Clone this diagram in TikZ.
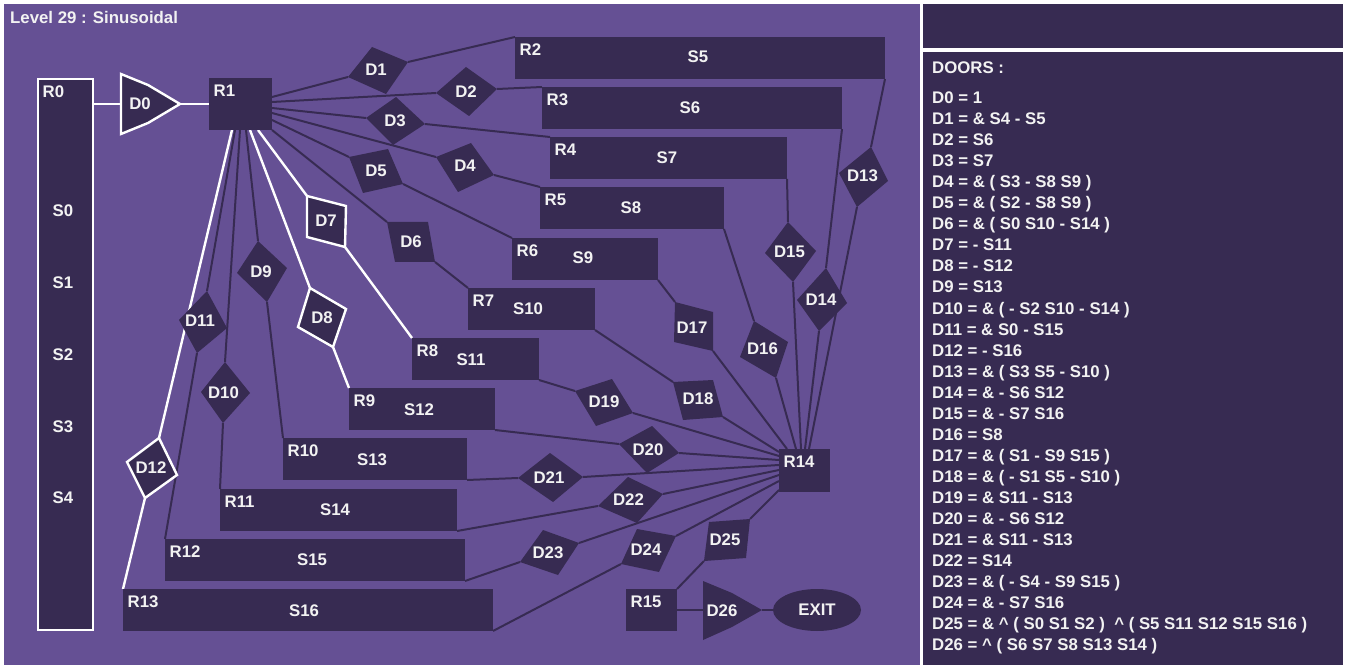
\documentclass[tikz,border=0pt]{standalone}
\usepackage{fontspec}
\setmainfont{Liberation Sans}
\usetikzlibrary{calc,shapes.geometric}
\pgfdeclarelayer{bg}
\pgfsetlayers{bg,main}
\definecolor{bgpurple}{RGB}{101,80,148}
\definecolor{darkbox}{RGB}{55,43,82}
\definecolor{txt}{RGB}{242,242,242}
\newcommand{\doorq}[6]{%
  \coordinate (#1i) at (#2); \coordinate (#1o) at (#4);
  \path[#6] (#1i) -- (#3) -- (#1o) -- (#5) -- cycle;}
\newcommand{\roombox}[7][room]{%
  \pgfmathsetmacro\myrcx{(#3+#5)/2}\pgfmathsetmacro\myrcy{(#4+#6)/2}%
  \pgfmathsetmacro\myrw{#5-#3}\pgfmathsetmacro\myrh{#6-#4}%
  \node[#1, minimum width=\myrw pt, minimum height=\myrh pt] (#2) at (\myrcx,\myrcy) {};
  \node[lab, anchor=base west] (#2lab) at ($(#2.north west)+(4.5,18.5)$) {#7};}
\begin{document}
\begin{tikzpicture}[x=1pt,y=-1pt,
  room/.style={fill=darkbox, inner sep=0, outer sep=0},
  wroom/.style={fill=darkbox, draw=white, line width=2.4pt, inner sep=0, outer sep=0},
  lab/.style={text=txt, font=\bfseries\fontsize{16.8}{20}\selectfont, inner sep=0},
  conn/.style={draw=darkbox, line width=2pt},
  wconn/.style={draw=white, line width=2.4pt},
  dfill/.style={fill=darkbox},
  wdoor/.style={fill=darkbox, draw=white, line width=2.4pt, line join=miter}]
\useasboundingbox (0,0) rectangle (1346,668);
\begin{pgfonlayer}{bg}
  \fill[white] (0,0) rectangle (1346,668);
  \fill[bgpurple] (4,4) rectangle (920,665);
  \fill[darkbox] (923,4) rectangle (1343,48);
  \fill[darkbox] (923,52) rectangle (1343,665);
\end{pgfonlayer}
\node[lab, anchor=base west] (title) at (10,24) {Level 29 : Sinusoidal};
% rooms
\roombox[wroom]{r0}{38}{79}{93}{630}{R0}
\roombox{r1}{209}{78}{272}{130}{R1}
\roombox{r2}{515}{37}{885}{79}{R2}
\roombox{r3}{542}{87}{842}{129}{R3}
\roombox{r4}{550}{137}{787}{179}{R4}
\roombox{r5}{540}{187}{724}{229}{R5}
\roombox{r6}{512}{238}{658}{280}{R6}
\roombox{r7}{468}{288}{595}{330}{R7}
\roombox{r8}{412}{338}{539}{380}{R8}
\roombox{r9}{349}{388}{495}{430}{R9}
\roombox{r10}{283}{438}{467}{480}{R10}
\roombox{r11}{220}{489}{457}{531}{R11}
\roombox{r12}{165}{539}{465}{581}{R12}
\roombox{r13}{123}{589}{493}{631}{R13}
\roombox{r14}{779}{449}{830}{492}{R14}
\roombox{r15}{626}{589}{677}{631}{R15}
% switch labels
\node[lab, anchor=base] (s0) at (63,217) {S0};
\node[lab, anchor=base] (s1) at (63,288.3) {S1};
\node[lab, anchor=base] (s2) at (63,360.3) {S2};
\node[lab, anchor=base] (s3) at (63,432) {S3};
\node[lab, anchor=base] (s4) at (63,503.7) {S4};
\node[lab, anchor=base] (s5) at (698,63) {S5};
\node[lab, anchor=base] (s6) at (690,114) {S6};
\node[lab, anchor=base] (s7) at (667,164) {S7};
\node[lab, anchor=base] (s8) at (631,214) {S8};
\node[lab, anchor=base] (s9) at (583,264) {S9};
\node[lab, anchor=base] (s10) at (528,314) {S10};
\node[lab, anchor=base] (s11) at (471,365) {S11};
\node[lab, anchor=base] (s12) at (419,415) {S12};
\node[lab, anchor=base] (s13) at (372,465) {S13};
\node[lab, anchor=base] (s14) at (335,515) {S14};
\node[lab, anchor=base] (s15) at (312,565) {S15};
\node[lab, anchor=base] (s16) at (304,616) {S16};
% doors
\coordinate (d0w) at (121,104); \coordinate (d0t) at (180,104);
\path[wdoor] (121,74) -- (148,85) -- (d0t) -- (148,123) -- (121,134) -- cycle;
\node[lab] (D0) at (140,104) {D0};
\doorq{d1}{348,77}{372,47}{408,62}{386,94}{dfill}
\node[lab] (D1) at (376,70) {D1};
\doorq{d2}{436,93}{466,67}{497,89}{469,116}{dfill}
\node[lab] (D2) at (466,91.5) {D2};
\doorq{d3}{366,118}{396,97}{425,124}{393,145}{dfill}
\node[lab] (D3) at (395,121) {D3};
\doorq{d4}{436,157}{471,143}{494,175}{458,192}{dfill}
\node[lab] (D4) at (465,166) {D4};
\doorq{d5}{349,157}{388,149}{403,184}{363,193}{dfill}
\node[lab] (D5) at (376,170.5) {D5};
\doorq{d6}{387,222}{428,222}{435,262}{395,262}{dfill}
\node[lab] (D6) at (411,242) {D6};
\doorq{d7}{307,196}{346,206}{345,247}{307,237}{wdoor}
\node[lab] (D7) at (326,221) {D7};
\doorq{d8}{310,288}{346,309}{333,347}{298,327}{wdoor}
\node[lab] (D8) at (322,317.5) {D8};
\doorq{d9}{258,241}{287,268}{267,302}{237,273}{dfill}
\node[lab] (D9) at (261,271.5) {D9};
\doorq{d10}{225,362}{250,393}{223,423}{201,392}{dfill}
\node[lab] (D10) at (223.5,392.5) {D10};
\doorq{d11}{207,291}{227,328}{197,353}{179,320}{dfill}
\node[lab] (D11) at (200,321) {D11};
\doorq{d12}{159,438}{177,475}{145,498}{127,462}{wdoor}
\node[lab] (D12) at (151,467.5) {D12};
\doorq{d13}{871,147}{888,181}{857,207}{839,173}{dfill}
\node[lab] (D13) at (862.5,176) {D13};
\doorq{d14}{826,268}{847,303}{819,331}{797,300}{dfill}
\node[lab] (D14) at (821,300) {D14};
\doorq{d15}{788,222}{816,251}{793,282}{765,253}{dfill}
\node[lab] (D15) at (789.5,251.5) {D15};
\doorq{d16}{754,321}{788,342}{776,378}{740,357}{dfill}
\node[lab] (D16) at (762.5,349) {D16};
\doorq{d17}{675,302}{713,312}{713,351}{674,342}{dfill}
\node[lab] (D17) at (692,327.5) {D17};
\doorq{d18}{673,382}{713,380}{723,417}{683,420}{dfill}
\node[lab] (D18) at (698,399) {D18};
\doorq{d19}{575,391}{612,379}{633,413}{596,426}{dfill}
\node[lab] (D19) at (604,402) {D19};
\doorq{d20}{619,444}{652,426}{679,453}{647,473}{dfill}
\node[lab] (D20) at (648,450) {D20};
\doorq{d21}{518,478}{550,453}{583,477}{553,502}{dfill}
\node[lab] (D21) at (549,477.5) {D21};
\doorq{d22}{598,506}{628,477}{663,494}{637,523}{dfill}
\node[lab] (D22) at (628.5,500) {D22};
\doorq{d23}{520,562}{543,530}{579,543}{558,575}{dfill}
\node[lab] (D23) at (548,553) {D23};
\doorq{d24}{621,564}{637,529}{676,536}{659,572}{dfill}
\node[lab] (D24) at (646,550) {D24};
\doorq{d25}{704,561}{709,522}{750,519}{746,558}{dfill}
\node[lab] (D25) at (725,540) {D25};
\coordinate (d26w) at (703,610); \coordinate (d26t) at (762,610);
\path[dfill] (703,581) -- (732,593) -- (d26t) -- (732,627) -- (703,640) -- cycle;
\node[lab] (D26) at (722,610.5) {D26};
\node[ellipse, fill=darkbox, text=txt, font=\bfseries\fontsize{16.8}{20}\selectfont,
      minimum width=88pt, minimum height=42pt, inner sep=0] (exit) at (817,610) {EXIT};
% door list
\node[lab, anchor=base west] (doors) at (932,74) {DOORS :};
\node[lab, anchor=base west] (t0) at (932,104) {D0 = 1};
\node[lab, anchor=base west] (t1) at (932,125) {D1 = \& S4 - S5};
\node[lab, anchor=base west] (t2) at (932,146) {D2 = S6};
\node[lab, anchor=base west] (t3) at (932,167) {D3 = S7};
\node[lab, anchor=base west] (t4) at (932,188) {D4 = \& ( S3 - S8 S9 )};
\node[lab, anchor=base west] (t5) at (932,209) {D5 = \& ( S2 - S8 S9 )};
\node[lab, anchor=base west] (t6) at (932,230) {D6 = \& ( S0 S10 - S14 )};
\node[lab, anchor=base west] (t7) at (932,251) {D7 = - S11};
\node[lab, anchor=base west] (t8) at (932,272) {D8 = - S12};
\node[lab, anchor=base west] (t9) at (932,293) {D9 = S13};
\node[lab, anchor=base west] (t10) at (932,314) {D10 = \& ( - S2 S10 - S14 )};
\node[lab, anchor=base west] (t11) at (932,335) {D11 = \& S0 - S15};
\node[lab, anchor=base west] (t12) at (932,356) {D12 = - S16};
\node[lab, anchor=base west] (t13) at (932,377) {D13 = \& ( S3 S5 - S10 )};
\node[lab, anchor=base west] (t14) at (932,398) {D14 = \& - S6 S12};
\node[lab, anchor=base west] (t15) at (932,419) {D15 = \& - S7 S16};
\node[lab, anchor=base west] (t16) at (932,440) {D16 = S8};
\node[lab, anchor=base west] (t17) at (932,461) {D17 = \& ( S1 - S9 S15 )};
\node[lab, anchor=base west] (t18) at (932,482) {D18 = \& ( - S1 S5 - S10 )};
\node[lab, anchor=base west] (t19) at (932,503) {D19 = \& S11 - S13};
\node[lab, anchor=base west] (t20) at (932,524) {D20 = \& - S6 S12};
\node[lab, anchor=base west] (t21) at (932,545) {D21 = \& S11 - S13};
\node[lab, anchor=base west] (t22) at (932,566) {D22 = S14};
\node[lab, anchor=base west] (t23) at (932,587) {D23 = \& ( - S4 - S9 S15 )};
\node[lab, anchor=base west] (t24) at (932,608) {D24 = \& - S7 S16};
\node[lab, anchor=base west] (t25) at (932,629) {D25 = \& \textasciicircum{} ( S0 S1 S2 ) \ \textasciicircum{} ( S5 S11 S12 S15 S16 )};
\node[lab, anchor=base west] (t26) at (932,650) {D26 = \textasciicircum{} ( S6 S7 S8 S13 S14 )};
% connectors
\begin{pgfonlayer}{bg}
  \draw[wconn] ($(r0.north east)+(0,25)$) -- (d0w);
  \draw[wconn] (d0t) -- (r1.west);
  \draw[wconn] ($(r1.south west)+(23,0)$) -- (d12i);
  \draw[wconn] (d12o) -- (r13.north west);
  \draw[wconn] ($(r1.south west)+(41,0)$) -- (d8i);
  \draw[wconn] (d8o) -- (r9.north west);
  \draw[wconn] ($(r1.south west)+(49,0)$) -- (d7i);
  \draw[wconn] (d7o) -- (r8.north west);
  \draw[conn] ($(r1.south west)+(26,0)$) -- (d11i);
  \draw[conn] (d11o) -- (r12.north west);
  \draw[conn] ($(r1.south west)+(31,0)$) -- (d10i);
  \draw[conn] (d10o) -- (r11.north west);
  \draw[conn] ($(r1.south west)+(37,0)$) -- (d9i);
  \draw[conn] (d9o) -- (r10.north west);
  \draw[conn] ($(r1.north east)+(0,19)$) -- (d1i);
  \draw[conn] (d1o) -- (r2.north west);
  \draw[conn] ($(r1.north east)+(0,24)$) -- (d2i);
  \draw[conn] (d2o) -- (r3.north west);
  \draw[conn] ($(r1.north east)+(0,30)$) -- (d3i);
  \draw[conn] (d3o) -- (r4.north west);
  \draw[conn] ($(r1.north east)+(0,35)$) -- (d4i);
  \draw[conn] (d4o) -- (r5.north west);
  \draw[conn] ($(r1.north east)+(0,42)$) -- (d5i);
  \draw[conn] (d5o) -- (r6.north west);
  \draw[conn] (r1.south east) -- (d6i);
  \draw[conn] (d6o) -- (r7.north west);
  \draw[conn] (r2.south east) -- (d13i);
  \draw[conn] (d13o) -- ($(r14.north west)+(30,0)$);
  \draw[conn] (r3.south east) -- (d14i);
  \draw[conn] (d14o) -- ($(r14.north west)+(26,0)$);
  \draw[conn] (r4.south east) -- (d15i);
  \draw[conn] (d15o) -- ($(r14.north west)+(22,0)$);
  \draw[conn] (r5.south east) -- (d16i);
  \draw[conn] (d16o) -- ($(r14.north west)+(17,0)$);
  \draw[conn] (r6.south east) -- (d17i);
  \draw[conn] (d17o) -- ($(r14.north west)+(8,0)$);
  \draw[conn] (r7.south east) -- (d18i);
  \draw[conn] (d18o) -- ($(r14.north west)+(0,3)$);
  \draw[conn] (r8.south east) -- (d19i);
  \draw[conn] (d19o) -- ($(r14.north west)+(0,7)$);
  \draw[conn] (r9.south east) -- (d20i);
  \draw[conn] (d20o) -- ($(r14.north west)+(0,11)$);
  \draw[conn] (r10.south east) -- (d21i);
  \draw[conn] (d21o) -- ($(r14.north west)+(0,16)$);
  \draw[conn] (r11.south east) -- (d22i);
  \draw[conn] (d22o) -- ($(r14.north west)+(0,21)$);
  \draw[conn] (r12.south east) -- (d23i);
  \draw[conn] (d23o) -- ($(r14.north west)+(0,26)$);
  \draw[conn] (r13.south east) -- (d24i);
  \draw[conn] (d24o) -- ($(r14.north west)+(0,32)$);
  \draw[conn] (r15.north east) -- (d25i);
  \draw[conn] (d25o) -- ($(r14.north west)+(0,41)$);
  \draw[conn] (r15.east) -- (d26w);
  \draw[conn] (d26t) -- (exit.west);
\end{pgfonlayer}
\end{tikzpicture}
\end{document}
